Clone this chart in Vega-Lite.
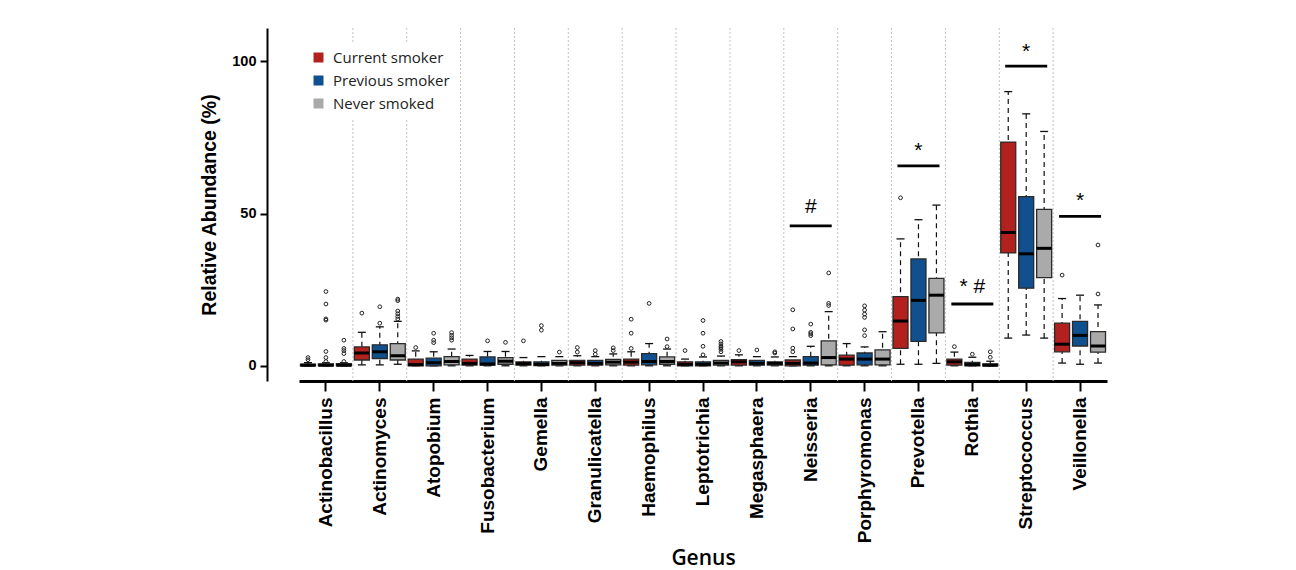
{
  "$schema": "https://vega.github.io/schema/vega-lite/v6.json",
  "width": 808,
  "height": 353,
  "autosize": "none",
  "padding": {"left": 299, "top": 28, "right": 189, "bottom": 189},
  "background": "white",
  "config": {"view": {"stroke": null}},
  "datasets": {
    "boxes": [
      {"genus": "Actinobacillus", "group": "Current smoker", "lo": 0, "q1": 0, "med": 0.2, "q3": 0.5, "hi": 1.0},
      {"genus": "Actinobacillus", "group": "Previous smoker", "lo": 0, "q1": 0, "med": 0.2, "q3": 0.6, "hi": 1.0},
      {"genus": "Actinobacillus", "group": "Never smoked", "lo": 0, "q1": 0, "med": 0.2, "q3": 0.7, "hi": 1.0},
      {"genus": "Actinomyces", "group": "Current smoker", "lo": 0.3, "q1": 1.9, "med": 4.2, "q3": 6.2, "hi": 11.0},
      {"genus": "Actinomyces", "group": "Previous smoker", "lo": 0.3, "q1": 2.4, "med": 4.6, "q3": 6.9, "hi": 12.8},
      {"genus": "Actinomyces", "group": "Never smoked", "lo": 0.5, "q1": 1.9, "med": 3.3, "q3": 7.3, "hi": 14.6},
      {"genus": "Atopobium", "group": "Current smoker", "lo": 0, "q1": 0, "med": 0.4, "q3": 2.2, "hi": 4.9},
      {"genus": "Atopobium", "group": "Previous smoker", "lo": 0, "q1": 0, "med": 1.0, "q3": 2.5, "hi": 4.6},
      {"genus": "Atopobium", "group": "Never smoked", "lo": 0, "q1": 0.3, "med": 1.4, "q3": 3.0, "hi": 5.5},
      {"genus": "Fusobacterium", "group": "Current smoker", "lo": 0, "q1": 0.2, "med": 0.8, "q3": 2.2, "hi": 3.4},
      {"genus": "Fusobacterium", "group": "Previous smoker", "lo": 0, "q1": 0.2, "med": 0.6, "q3": 2.9, "hi": 4.7},
      {"genus": "Fusobacterium", "group": "Never smoked", "lo": 0, "q1": 0.5, "med": 1.5, "q3": 2.7, "hi": 4.7},
      {"genus": "Gemella", "group": "Current smoker", "lo": 0, "q1": 0.2, "med": 0.7, "q3": 1.3, "hi": 2.7},
      {"genus": "Gemella", "group": "Previous smoker", "lo": 0, "q1": 0.1, "med": 0.5, "q3": 1.3, "hi": 3.0},
      {"genus": "Gemella", "group": "Never smoked", "lo": 0, "q1": 0.2, "med": 0.8, "q3": 1.8, "hi": 3.0},
      {"genus": "Granulicatella", "group": "Current smoker", "lo": 0, "q1": 0.2, "med": 1.0, "q3": 1.8, "hi": 3.3},
      {"genus": "Granulicatella", "group": "Previous smoker", "lo": 0, "q1": 0.2, "med": 0.8, "q3": 1.8, "hi": 3.0},
      {"genus": "Granulicatella", "group": "Never smoked", "lo": 0, "q1": 0.3, "med": 1.2, "q3": 2.1, "hi": 3.9},
      {"genus": "Haemophilus", "group": "Current smoker", "lo": 0, "q1": 0.2, "med": 1.2, "q3": 2.2, "hi": 4.6},
      {"genus": "Haemophilus", "group": "Previous smoker", "lo": 0, "q1": 0.3, "med": 1.4, "q3": 4.0, "hi": 7.3},
      {"genus": "Haemophilus", "group": "Never smoked", "lo": 0, "q1": 0.5, "med": 1.4, "q3": 2.9, "hi": 5.5},
      {"genus": "Leptotrichia", "group": "Current smoker", "lo": 0, "q1": 0, "med": 0.5, "q3": 1.3, "hi": 2.2},
      {"genus": "Leptotrichia", "group": "Previous smoker", "lo": 0, "q1": 0, "med": 0.5, "q3": 1.3, "hi": 2.9},
      {"genus": "Leptotrichia", "group": "Never smoked", "lo": 0, "q1": 0.2, "med": 0.9, "q3": 1.8, "hi": 3.2},
      {"genus": "Megasphaera", "group": "Current smoker", "lo": 0, "q1": 0.2, "med": 1.3, "q3": 2.0, "hi": 3.6},
      {"genus": "Megasphaera", "group": "Previous smoker", "lo": 0, "q1": 0.2, "med": 0.8, "q3": 1.8, "hi": 3.0},
      {"genus": "Megasphaera", "group": "Never smoked", "lo": 0, "q1": 0.2, "med": 0.8, "q3": 1.3, "hi": 2.9},
      {"genus": "Neisseria", "group": "Current smoker", "lo": 0, "q1": 0, "med": 0.8, "q3": 1.9, "hi": 3.0},
      {"genus": "Neisseria", "group": "Previous smoker", "lo": 0, "q1": 0.2, "med": 0.9, "q3": 3.0, "hi": 6.4},
      {"genus": "Neisseria", "group": "Never smoked", "lo": 0, "q1": 0.3, "med": 2.7, "q3": 8.2, "hi": 17.8},
      {"genus": "Porphyromonas", "group": "Current smoker", "lo": 0, "q1": 0.2, "med": 2.2, "q3": 3.5, "hi": 7.3},
      {"genus": "Porphyromonas", "group": "Previous smoker", "lo": 0, "q1": 0.3, "med": 2.2, "q3": 4.2, "hi": 6.2},
      {"genus": "Porphyromonas", "group": "Never smoked", "lo": 0, "q1": 0.3, "med": 2.2, "q3": 5.2, "hi": 11.2},
      {"genus": "Prevotella", "group": "Current smoker", "lo": 0.5, "q1": 5.7, "med": 14.7, "q3": 22.7, "hi": 41.7},
      {"genus": "Prevotella", "group": "Previous smoker", "lo": 0.5, "q1": 8.0, "med": 21.5, "q3": 35.1, "hi": 48.0},
      {"genus": "Prevotella", "group": "Never smoked", "lo": 0.8, "q1": 10.8, "med": 23.2, "q3": 28.7, "hi": 52.8},
      {"genus": "Rothia", "group": "Current smoker", "lo": 0, "q1": 0.2, "med": 1.3, "q3": 2.2, "hi": 4.5},
      {"genus": "Rothia", "group": "Previous smoker", "lo": 0, "q1": 0, "med": 0.4, "q3": 1.1, "hi": 2.8},
      {"genus": "Rothia", "group": "Never smoked", "lo": 0, "q1": 0, "med": 0.2, "q3": 0.6, "hi": 1.5},
      {"genus": "Streptococcus", "group": "Current smoker", "lo": 9.1, "q1": 37.1, "med": 43.8, "q3": 73.5, "hi": 90.1},
      {"genus": "Streptococcus", "group": "Previous smoker", "lo": 10.1, "q1": 25.5, "med": 36.8, "q3": 55.6, "hi": 82.8},
      {"genus": "Streptococcus", "group": "Never smoked", "lo": 9.1, "q1": 29.0, "med": 38.6, "q3": 51.4, "hi": 77.0},
      {"genus": "Veillonella", "group": "Current smoker", "lo": 0.9, "q1": 4.6, "med": 7.1, "q3": 14.0, "hi": 22.1},
      {"genus": "Veillonella", "group": "Previous smoker", "lo": 0.5, "q1": 6.5, "med": 10.0, "q3": 14.6, "hi": 23.2},
      {"genus": "Veillonella", "group": "Never smoked", "lo": 0.9, "q1": 4.5, "med": 6.5, "q3": 11.2, "hi": 20.0}
    ],
    "outliers": [
      {"genus": "Actinobacillus", "group": "Current smoker", "value": 2.0},
      {"genus": "Actinobacillus", "group": "Current smoker", "value": 2.7},
      {"genus": "Actinobacillus", "group": "Previous smoker", "value": 1.4},
      {"genus": "Actinobacillus", "group": "Previous smoker", "value": 2.7},
      {"genus": "Actinobacillus", "group": "Previous smoker", "value": 4.7},
      {"genus": "Actinobacillus", "group": "Previous smoker", "value": 15.0},
      {"genus": "Actinobacillus", "group": "Previous smoker", "value": 15.4},
      {"genus": "Actinobacillus", "group": "Previous smoker", "value": 20.3},
      {"genus": "Actinobacillus", "group": "Previous smoker", "value": 24.4},
      {"genus": "Actinobacillus", "group": "Never smoked", "value": 1.4},
      {"genus": "Actinobacillus", "group": "Never smoked", "value": 4.0},
      {"genus": "Actinobacillus", "group": "Never smoked", "value": 5.0},
      {"genus": "Actinobacillus", "group": "Never smoked", "value": 5.7},
      {"genus": "Actinobacillus", "group": "Never smoked", "value": 8.4},
      {"genus": "Actinomyces", "group": "Current smoker", "value": 17.3},
      {"genus": "Actinomyces", "group": "Previous smoker", "value": 14.0},
      {"genus": "Actinomyces", "group": "Previous smoker", "value": 19.4},
      {"genus": "Actinomyces", "group": "Never smoked", "value": 15.4},
      {"genus": "Actinomyces", "group": "Never smoked", "value": 16.2},
      {"genus": "Actinomyces", "group": "Never smoked", "value": 17.1},
      {"genus": "Actinomyces", "group": "Never smoked", "value": 18.0},
      {"genus": "Actinomyces", "group": "Never smoked", "value": 21.4},
      {"genus": "Actinomyces", "group": "Never smoked", "value": 21.9},
      {"genus": "Atopobium", "group": "Current smoker", "value": 6.0},
      {"genus": "Atopobium", "group": "Previous smoker", "value": 7.6},
      {"genus": "Atopobium", "group": "Previous smoker", "value": 8.4},
      {"genus": "Atopobium", "group": "Previous smoker", "value": 10.7},
      {"genus": "Atopobium", "group": "Never smoked", "value": 8.4},
      {"genus": "Atopobium", "group": "Never smoked", "value": 9.2},
      {"genus": "Atopobium", "group": "Never smoked", "value": 10.0},
      {"genus": "Atopobium", "group": "Never smoked", "value": 10.9},
      {"genus": "Fusobacterium", "group": "Previous smoker", "value": 8.2},
      {"genus": "Fusobacterium", "group": "Never smoked", "value": 7.7},
      {"genus": "Gemella", "group": "Current smoker", "value": 8.2},
      {"genus": "Gemella", "group": "Previous smoker", "value": 11.7},
      {"genus": "Gemella", "group": "Previous smoker", "value": 13.2},
      {"genus": "Gemella", "group": "Never smoked", "value": 4.5},
      {"genus": "Granulicatella", "group": "Current smoker", "value": 4.5},
      {"genus": "Granulicatella", "group": "Current smoker", "value": 6.0},
      {"genus": "Granulicatella", "group": "Previous smoker", "value": 3.8},
      {"genus": "Granulicatella", "group": "Previous smoker", "value": 5.0},
      {"genus": "Granulicatella", "group": "Never smoked", "value": 5.0},
      {"genus": "Granulicatella", "group": "Never smoked", "value": 5.9},
      {"genus": "Haemophilus", "group": "Current smoker", "value": 5.7},
      {"genus": "Haemophilus", "group": "Current smoker", "value": 10.7},
      {"genus": "Haemophilus", "group": "Current smoker", "value": 15.3},
      {"genus": "Haemophilus", "group": "Previous smoker", "value": 20.5},
      {"genus": "Haemophilus", "group": "Never smoked", "value": 6.3},
      {"genus": "Haemophilus", "group": "Never smoked", "value": 8.8},
      {"genus": "Leptotrichia", "group": "Current smoker", "value": 5.0},
      {"genus": "Leptotrichia", "group": "Previous smoker", "value": 3.6},
      {"genus": "Leptotrichia", "group": "Previous smoker", "value": 6.4},
      {"genus": "Leptotrichia", "group": "Previous smoker", "value": 10.7},
      {"genus": "Leptotrichia", "group": "Previous smoker", "value": 14.9},
      {"genus": "Leptotrichia", "group": "Never smoked", "value": 4.6},
      {"genus": "Leptotrichia", "group": "Never smoked", "value": 5.4},
      {"genus": "Leptotrichia", "group": "Never smoked", "value": 5.9},
      {"genus": "Leptotrichia", "group": "Never smoked", "value": 6.4},
      {"genus": "Leptotrichia", "group": "Never smoked", "value": 7.2},
      {"genus": "Leptotrichia", "group": "Never smoked", "value": 8.0},
      {"genus": "Megasphaera", "group": "Current smoker", "value": 5.0},
      {"genus": "Megasphaera", "group": "Previous smoker", "value": 5.2},
      {"genus": "Megasphaera", "group": "Never smoked", "value": 4.2},
      {"genus": "Megasphaera", "group": "Never smoked", "value": 4.6},
      {"genus": "Neisseria", "group": "Current smoker", "value": 4.6},
      {"genus": "Neisseria", "group": "Current smoker", "value": 5.8},
      {"genus": "Neisseria", "group": "Current smoker", "value": 12.1},
      {"genus": "Neisseria", "group": "Current smoker", "value": 18.4},
      {"genus": "Neisseria", "group": "Previous smoker", "value": 9.9},
      {"genus": "Neisseria", "group": "Previous smoker", "value": 10.5},
      {"genus": "Neisseria", "group": "Previous smoker", "value": 11.0},
      {"genus": "Neisseria", "group": "Previous smoker", "value": 13.7},
      {"genus": "Neisseria", "group": "Never smoked", "value": 19.8},
      {"genus": "Neisseria", "group": "Never smoked", "value": 20.5},
      {"genus": "Neisseria", "group": "Never smoked", "value": 30.5},
      {"genus": "Porphyromonas", "group": "Previous smoker", "value": 9.9},
      {"genus": "Porphyromonas", "group": "Previous smoker", "value": 11.8},
      {"genus": "Porphyromonas", "group": "Previous smoker", "value": 15.9},
      {"genus": "Porphyromonas", "group": "Previous smoker", "value": 17.0},
      {"genus": "Porphyromonas", "group": "Previous smoker", "value": 18.3},
      {"genus": "Porphyromonas", "group": "Previous smoker", "value": 19.7},
      {"genus": "Prevotella", "group": "Current smoker", "value": 55.2},
      {"genus": "Rothia", "group": "Current smoker", "value": 6.3},
      {"genus": "Rothia", "group": "Previous smoker", "value": 3.8},
      {"genus": "Rothia", "group": "Never smoked", "value": 2.8},
      {"genus": "Rothia", "group": "Never smoked", "value": 4.6},
      {"genus": "Veillonella", "group": "Current smoker", "value": 29.8},
      {"genus": "Veillonella", "group": "Never smoked", "value": 23.6},
      {"genus": "Veillonella", "group": "Never smoked", "value": 39.7}
    ],
    "dividers": [
      {"genus": "Actinomyces"}, {"genus": "Atopobium"}, {"genus": "Fusobacterium"}, {"genus": "Gemella"},
      {"genus": "Granulicatella"}, {"genus": "Haemophilus"}, {"genus": "Leptotrichia"}, {"genus": "Megasphaera"},
      {"genus": "Neisseria"}, {"genus": "Porphyromonas"}, {"genus": "Prevotella"}, {"genus": "Rothia"},
      {"genus": "Streptococcus"}, {"genus": "Veillonella"}
    ],
    "annot": [
      {"genus": "Neisseria", "line": 46.0, "label": "#", "labelY": 52.3},
      {"genus": "Prevotella", "line": 65.7, "label": "*", "labelY": 70.6},
      {"genus": "Rothia", "line": 20.3, "label": "* #", "labelY": 26.0},
      {"genus": "Streptococcus", "line": 98.5, "label": "*", "labelY": 103.1},
      {"genus": "Veillonella", "line": 49.1, "label": "*", "labelY": 54.0}
    ]
  },
  "encoding": {
    "x": {
      "field": "genus", "type": "nominal",
      "scale": {"paddingInner": 0, "paddingOuter": 0, "domain": ["Actinobacillus", "Actinomyces", "Atopobium", "Fusobacterium", "Gemella", "Granulicatella", "Haemophilus", "Leptotrichia", "Megasphaera", "Neisseria", "Porphyromonas", "Prevotella", "Rothia", "Streptococcus", "Veillonella"]},
      "axis": {
        "title": "Genus", "grid": false,
        "domainColor": "black", "domainWidth": 3,
        "tickColor": "black", "tickWidth": 2, "tickSize": 10,
        "labelAngle": -90, "labelAlign": "right", "labelBaseline": "middle",
        "labelFont": "Liberation Sans", "labelFontWeight": "bold", "labelFontSize": 19, "labelColor": "black", "labelPadding": 6,
        "titleFont": "Open Sans", "titleFontWeight": 600, "titleFontSize": 21, "titleColor": "black",
        "titleY": 177, "titleBaseline": "middle"
      }
    },
    "y": {
      "type": "quantitative",
      "scale": {"domain": [-5, 111], "nice": false, "zero": false},
      "axis": {
        "title": "Relative Abundance (%)", "values": [0, 50, 100], "grid": false, "offset": 32,
        "domainColor": "black", "domainWidth": 2,
        "tickColor": "black", "tickWidth": 2, "tickSize": 7,
        "labelFont": "Liberation Sans", "labelFontWeight": "bold", "labelFontSize": 14.5, "labelColor": "black", "labelPadding": 4,
        "titleFont": "Liberation Sans", "titleFontWeight": "bold", "titleFontSize": 19.5, "titleColor": "black", "titlePadding": 12
      }
    }
  },
  "layer": [
    {
      "data": {"name": "dividers"},
      "mark": {"type": "rule", "color": "#c4c4c4", "strokeDash": [2, 2], "strokeWidth": 1},
      "encoding": {"x": {"field": "genus", "type": "nominal", "bandPosition": 0}}
    },
    {
      "data": {"name": "boxes"},
      "mark": {"type": "rule", "color": "#111", "strokeDash": [5, 4], "strokeWidth": 1.2},
      "encoding": {
        "xOffset": {"field": "group", "type": "nominal", "scale": {"domain": ["Current smoker", "Previous smoker", "Never smoked"], "paddingInner": 0, "paddingOuter": 0}},
        "y": {"field": "lo", "type": "quantitative"},
        "y2": {"field": "hi"}
      }
    },
    {
      "data": {"name": "boxes"},
      "mark": {"type": "tick", "color": "#111", "size": 8, "thickness": 1.3, "orient": "horizontal", "opacity": 1},
      "encoding": {
        "xOffset": {"field": "group", "type": "nominal", "scale": {"domain": ["Current smoker", "Previous smoker", "Never smoked"], "paddingInner": 0, "paddingOuter": 0}},
        "y": {"field": "lo", "type": "quantitative"}
      }
    },
    {
      "data": {"name": "boxes"},
      "mark": {"type": "tick", "color": "#111", "size": 8, "thickness": 1.3, "orient": "horizontal", "opacity": 1},
      "encoding": {
        "xOffset": {"field": "group", "type": "nominal", "scale": {"domain": ["Current smoker", "Previous smoker", "Never smoked"], "paddingInner": 0, "paddingOuter": 0}},
        "y": {"field": "hi", "type": "quantitative"}
      }
    },
    {
      "data": {"name": "boxes"},
      "mark": {"type": "bar", "width": 15, "stroke": "#2a2a2a", "strokeWidth": 1.3, "opacity": 1},
      "encoding": {
        "xOffset": {"field": "group", "type": "nominal", "scale": {"domain": ["Current smoker", "Previous smoker", "Never smoked"], "paddingInner": 0, "paddingOuter": 0}},
        "y": {"field": "q1", "type": "quantitative"},
        "y2": {"field": "q3"},
        "color": {
          "field": "group", "type": "nominal",
          "scale": {"domain": ["Current smoker", "Previous smoker", "Never smoked"], "range": ["#B3211F", "#11508F", "#AAAAAA"]},
          "legend": {
            "title": null, "orient": "none", "legendX": 4, "legendY": 14,
            "fillColor": "white", "padding": 8,
            "symbolType": "square", "symbolSize": 100, "symbolStrokeWidth": 0,
            "labelFont": "Open Sans", "labelFontSize": 15, "labelColor": "#222", "labelOffset": 7,
            "rowPadding": 7
          }
        }
      }
    },
    {
      "data": {"name": "boxes"},
      "mark": {"type": "tick", "color": "black", "size": 15, "thickness": 3, "orient": "horizontal", "opacity": 1},
      "encoding": {
        "xOffset": {"field": "group", "type": "nominal", "scale": {"domain": ["Current smoker", "Previous smoker", "Never smoked"], "paddingInner": 0, "paddingOuter": 0}},
        "y": {"field": "med", "type": "quantitative"}
      }
    },
    {
      "data": {"name": "outliers"},
      "mark": {"type": "point", "shape": "circle", "filled": false, "size": 14, "stroke": "#222", "strokeWidth": 1, "opacity": 1},
      "encoding": {
        "xOffset": {"field": "group", "type": "nominal", "scale": {"domain": ["Current smoker", "Previous smoker", "Never smoked"], "paddingInner": 0, "paddingOuter": 0}},
        "y": {"field": "value", "type": "quantitative"}
      }
    },
    {
      "data": {"name": "annot"},
      "mark": {"type": "tick", "color": "black", "size": 42, "thickness": 2.8, "orient": "horizontal", "opacity": 1},
      "encoding": {"y": {"field": "line", "type": "quantitative"}}
    },
    {
      "data": {"name": "annot"},
      "mark": {"type": "text", "font": "Liberation Sans", "fontSize": 21, "color": "black", "baseline": "middle", "align": "center"},
      "encoding": {"y": {"field": "labelY", "type": "quantitative"}, "text": {"field": "label"}}
    }
  ]
}
